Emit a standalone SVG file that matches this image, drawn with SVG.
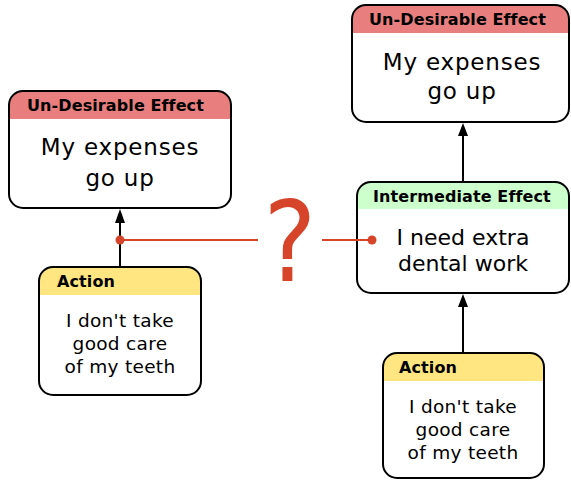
<svg xmlns="http://www.w3.org/2000/svg" width="571" height="480" viewBox="0 0 571 480">
<defs>
<style>
.box{fill:#fff;stroke:none}
.border{fill:none;stroke:#000;stroke-width:2}
.ude{fill:#e87e7e}
.ie{fill:#ccffcc}
.act{fill:#ffe680}
.hdr{font-family:"DejaVu Sans",sans-serif;font-weight:bold;font-size:16px;letter-spacing:0.1px;fill:#000}
.body{font-family:"DejaVu Sans",sans-serif;font-size:23px;letter-spacing:0.8px;fill:#000;text-anchor:middle}
.body2{font-family:"DejaVu Sans",sans-serif;font-size:22px;fill:#000;text-anchor:middle}
.small{font-family:"DejaVu Sans",sans-serif;font-size:18.5px;letter-spacing:0.3px;fill:#000;text-anchor:middle}
.conn{stroke:#000;stroke-width:2;fill:none}
.red{stroke:#d6452a;stroke-width:2;fill:none}
</style>
</defs>

<g id="ude-left">
<rect class="box" x="9" y="91" width="222" height="117" rx="14"/>
<path class="ude" d="M9,119 V105 A14,14 0 0 1 23,91 H217 A14,14 0 0 1 231,105 V119 Z"/>
<rect class="border" x="9" y="91" width="222" height="117" rx="14"/>
<text class="hdr" x="27" y="111">Un-Desirable Effect</text>
<text class="body" x="120" y="155">My expenses</text>
<text class="body" x="120" y="186">go up</text>
</g>

<g id="action-left">
<rect class="box" x="39" y="267" width="162" height="128" rx="14"/>
<path class="act" d="M39,295 V281 A14,14 0 0 1 53,267 H187 A14,14 0 0 1 201,281 V295 Z"/>
<rect class="border" x="39" y="267" width="162" height="128" rx="14"/>
<text class="hdr" x="57" y="287">Action</text>
<text class="small" x="120" y="327">I don't take</text>
<text class="small" x="120" y="350">good care</text>
<text class="small" x="120" y="373">of my teeth</text>
</g>

<g id="ude-right">
<rect class="box" x="352" y="5" width="217" height="117" rx="14"/>
<path class="ude" d="M352,33 V19 A14,14 0 0 1 366,5 H555 A14,14 0 0 1 569,19 V33 Z"/>
<rect class="border" x="352" y="5" width="217" height="117" rx="14"/>
<text class="hdr" x="369" y="25">Un-Desirable Effect</text>
<text class="body" x="462" y="70">My expenses</text>
<text class="body" x="462" y="99">go up</text>
</g>

<g id="intermediate">
<rect class="box" x="357" y="182" width="212" height="111" rx="14"/>
<path class="ie" d="M357,209 V196 A14,14 0 0 1 371,182 H555 A14,14 0 0 1 569,196 V209 Z"/>
<rect class="border" x="357" y="182" width="212" height="111" rx="14"/>
<text class="hdr" x="373" y="202">Intermediate Effect</text>
<text class="body2" x="463" y="245">I need extra</text>
<text class="body2" x="463" y="271">dental work</text>
</g>

<g id="action-right">
<rect class="box" x="383" y="353" width="161" height="125" rx="14"/>
<path class="act" d="M383,381 V367 A14,14 0 0 1 397,353 H530 A14,14 0 0 1 544,367 V381 Z"/>
<rect class="border" x="383" y="353" width="161" height="125" rx="14"/>
<text class="hdr" x="399" y="373">Action</text>
<text class="small" x="463" y="413">I don't take</text>
<text class="small" x="463" y="436">good care</text>
<text class="small" x="463" y="459">of my teeth</text>
</g>

<g id="connectors">
<line class="conn" x1="120" y1="267" x2="120" y2="222"/>
<path d="M120,209 L115,223 L125,223 Z" fill="#000"/>
<line class="conn" x1="463" y1="182" x2="463" y2="135"/>
<path d="M463,123 L458,136 L468,136 Z" fill="#000"/>
<line class="conn" x1="463" y1="353" x2="463" y2="306"/>
<path d="M463,294 L458,307 L468,307 Z" fill="#000"/>
<line class="red" x1="120" y1="240" x2="258" y2="240"/>
<line class="red" x1="322" y1="240" x2="372" y2="240"/>
<circle cx="120" cy="240" r="4.5" fill="#d6452a"/>
<circle cx="372" cy="240" r="4.5" fill="#d6452a"/>
<text transform="translate(290,281) scale(0.88,1)" font-family="DejaVu Sans,sans-serif" font-size="113" fill="#d6452a" text-anchor="middle">?</text>
</g>
</svg>
